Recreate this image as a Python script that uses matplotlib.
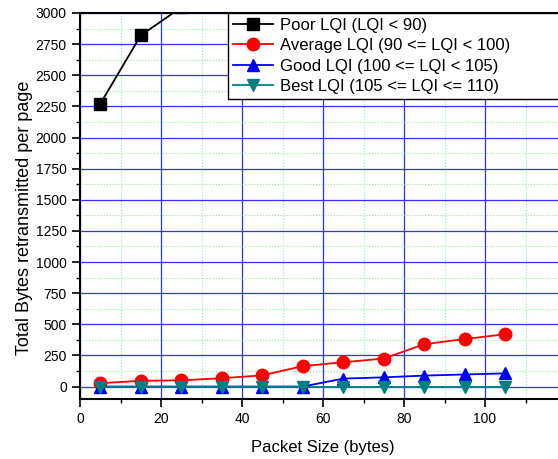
import matplotlib
matplotlib.use('Agg')
import matplotlib.pyplot as plt
from matplotlib.ticker import MultipleLocator, FixedLocator

plt.rcParams['font.family'] = ['Liberation Sans', 'DejaVu Sans']

# packet sizes (bytes)
packet_size = [5, 15, 25, 35, 45, 55, 65, 75, 85, 95, 105]

# total bytes retransmitted per page
poor_x = [5, 15, 25]
poor = [2270, 2820, 3045]
average = [27, 46, 50, 67, 90, 164, 195, 225, 340, 382, 420]
good = [0, 0, 0, 0, 0, 0, 64, 74, 88, 97, 106]
best = [0, 0, 0, 0, 0, 0, 0, 0, 0, 0, 0]

labels = ['Poor LQI (LQI < 90)',
          'Average LQI (90 <= LQI < 100)',
          'Good LQI (100 <= LQI < 105)',
          'Best LQI (105 <= LQI <= 110)']

fig = plt.figure(figsize=(5.58, 4.59), dpi=100)
ax = fig.add_axes([0.1434, 0.1307, 0.871, 0.841])

ax.plot(poor_x, poor, color='black', marker='s', markersize=8, lw=1.3, label=labels[0], zorder=5)
ax.plot(packet_size, average, color='red', marker='o', markersize=9, lw=1.3, label=labels[1], zorder=4)
ax.plot(packet_size, good, color='blue', marker='^', markersize=9, lw=1.3, label=labels[2], zorder=4)
ax.plot(packet_size, best, color='#008080', marker='v', markersize=9, lw=1.3, label=labels[3], zorder=4)

ax.set_xlim(0, 120)
ax.set_ylim(-100, 3000)
ax.xaxis.set_major_locator(FixedLocator([0, 20, 40, 60, 80, 100]))
ax.xaxis.set_minor_locator(FixedLocator([10, 30, 50, 70, 90, 110]))
ax.yaxis.set_major_locator(MultipleLocator(250))
ax.yaxis.set_minor_locator(MultipleLocator(125))

ax.grid(True, which='major', color='#3030ff', lw=0.9)
ax.grid(True, which='minor', color='#90ee90', lw=0.8, ls=':')
ax.set_axisbelow(True)

ax.tick_params(which='major', direction='out', length=6, width=1.2, labelsize=10)
ax.tick_params(which='minor', direction='out', length=3, width=1.0)
for s in ax.spines.values():
    s.set_linewidth(1.5)

ax.set_xlabel('Packet Size (bytes)', fontsize=12, labelpad=10)
ax.set_ylabel('Total Bytes retransmitted per page', fontsize=13)
ax.yaxis.set_label_coords(-0.097, 0.469)

# legend box runs past the right edge of the picture
leg = ax.legend(loc='upper left', bbox_to_anchor=(0.3045, 0.0, 0.72, 1.0), mode='expand',
                fontsize=12, frameon=True, fancybox=False, edgecolor='black', framealpha=1,
                handlelength=2.4, borderaxespad=0, labelspacing=0.32, handletextpad=0.4,
                borderpad=0.3)
leg.get_frame().set_linewidth(1.0)

fig.savefig('out.png', dpi=100)
